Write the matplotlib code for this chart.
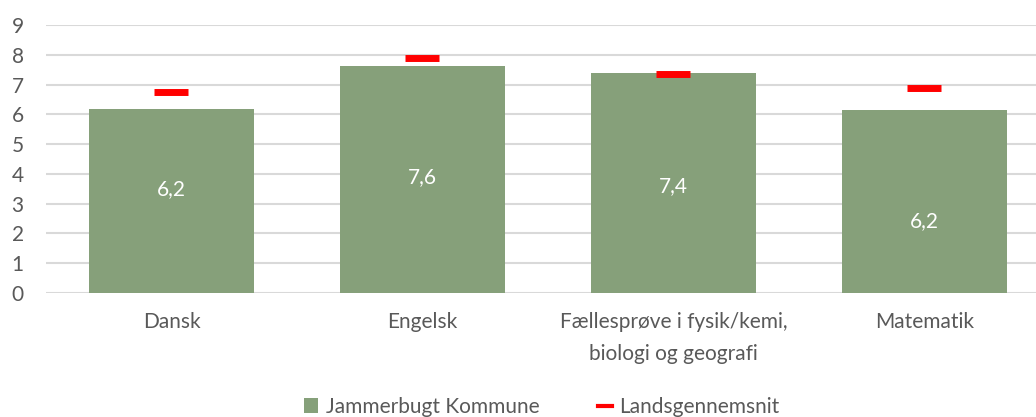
import numpy as np
import matplotlib.pyplot as plt
from matplotlib.patches import Patch
from matplotlib.lines import Line2D

# data
fag = ['Dansk', 'Engelsk', 'Fællesprøve i fysik/kemi,\nbiologi og geografi', 'Matematik']
kommune = [6.17, 7.62, 7.38, 6.14]
landsgns = [6.74, 7.90, 7.37, 6.90]
etiketter = ['6,2', '7,6', '7,4', '6,2']

# label heights as placed in the original chart
etiket_y = [3.5, 3.9, 3.6, 2.4]

plt.rcParams['font.family'] = ['Lato', 'DejaVu Sans']
tekst = '#595959'
groen = '#86A07A'
fs = 15

fig = plt.figure(figsize=(10.36, 4.17), dpi=100)
ax = fig.add_axes([0.0444, 0.2974, 0.969, 0.6427])

x = np.arange(len(fag))
ax.bar(x, kommune, width=0.66, color=groen, zorder=2)
ax.plot(x, landsgns, linestyle='none', marker='_', markersize=24,
        markeredgewidth=5, color='#FF0000', zorder=3)

for xi, yi, t in zip(x, etiket_y, etiketter):
    ax.text(xi, yi, t, ha='center', va='center', color='white', fontsize=fs)

ax.set_xlim(-0.5, 3.5)
ax.set_ylim(0, 9)
ax.set_yticks(range(0, 10))
ax.yaxis.grid(True, color='#D9D9D9', linewidth=1.5, zorder=0)
ax.set_axisbelow(True)
for s in ax.spines.values():
    s.set_visible(False)
ax.tick_params(length=0, labelsize=fs, colors=tekst)
ax.tick_params(axis='y', pad=16)
ax.tick_params(axis='x', pad=14)
ax.set_xticks(x)
ax.set_xticklabels(fag, linespacing=1.7)

handles = [Patch(facecolor=groen, label='Jammerbugt Kommune'),
           Line2D([0], [0], color='#FF0000', linewidth=3, label='Landsgennemsnit')]
fig.legend(handles=handles, loc='center', bbox_to_anchor=(0.523, 0.024),
           ncol=2, frameon=False, fontsize=fs, labelcolor=tekst,
           handlelength=0.7, handleheight=0.7, handletextpad=0.35,
           columnspacing=2.8)

fig.savefig('out.png', dpi=100)
